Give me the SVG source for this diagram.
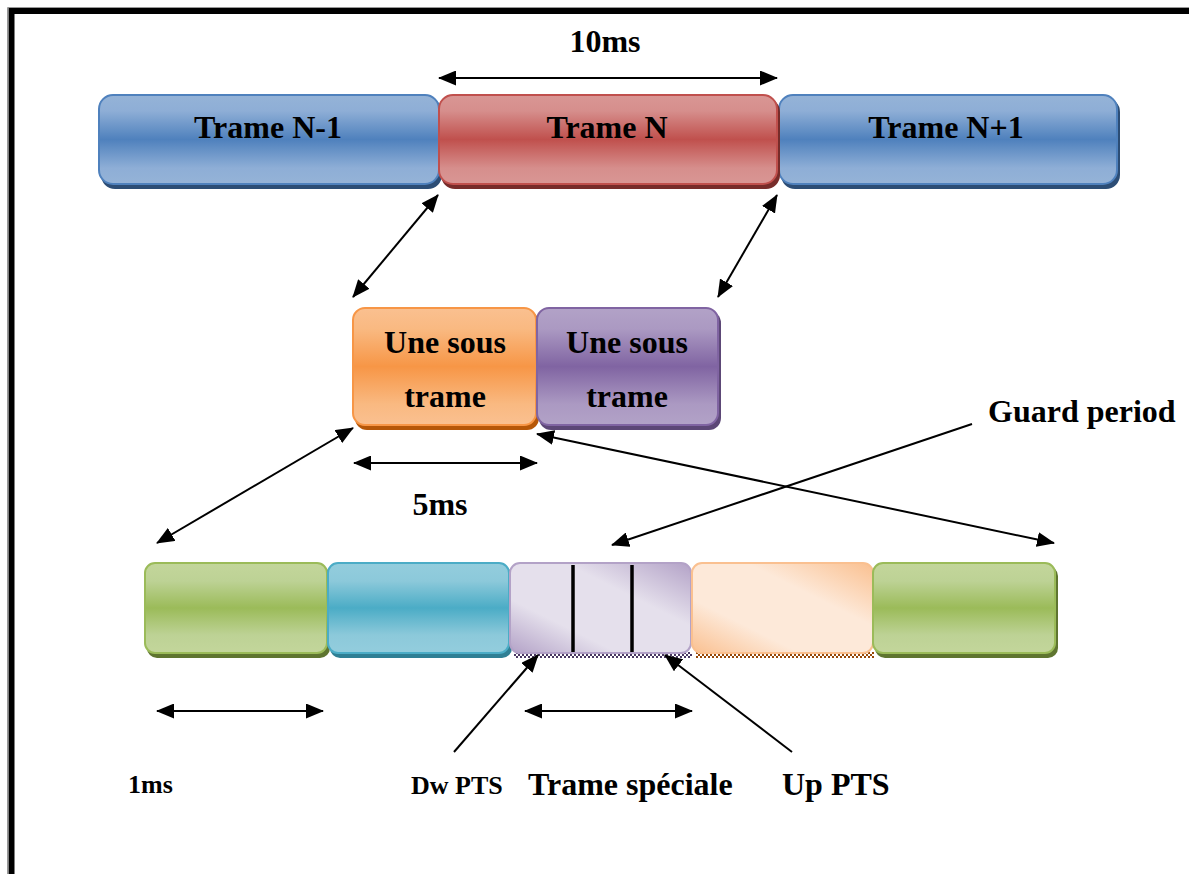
<svg xmlns="http://www.w3.org/2000/svg" width="1189" height="874" viewBox="0 0 1189 874">
  <style>
    .lbl { font-family: "Liberation Serif", "Times New Roman", serif; font-weight: bold; fill: #000; }
    .big { font-size: 32px; }
    .small { font-size: 26px; }
    .conn { stroke: #000; stroke-width: 2; fill: none; }
    .dbl { marker-start: url(#head); marker-end: url(#head); }
    .one { marker-end: url(#head); }
    .tick { stroke: #000; stroke-width: 3.5; }
  </style>
  <defs>
    <marker id="head" markerUnits="userSpaceOnUse" markerWidth="19" markerHeight="15" refX="17" refY="7.5" orient="auto-start-reverse">
      <path d="M0,0 L18,7.5 L0,15 z" fill="#000"/>
    </marker>
    <!-- glossy vertical fills: light / mid / light -->
    <linearGradient id="gBlue" x1="0" y1="0" x2="0" y2="1">
      <stop offset="0" stop-color="#95b3d7"/><stop offset="0.18" stop-color="#8eaed6"/>
      <stop offset="0.5" stop-color="#4f81bd"/><stop offset="0.82" stop-color="#8eaed6"/>
      <stop offset="1" stop-color="#95b3d7"/>
    </linearGradient>
    <linearGradient id="gRed" x1="0" y1="0" x2="0" y2="1">
      <stop offset="0" stop-color="#d99694"/><stop offset="0.18" stop-color="#d68e8c"/>
      <stop offset="0.5" stop-color="#c0504d"/><stop offset="0.82" stop-color="#d68e8c"/>
      <stop offset="1" stop-color="#d99694"/>
    </linearGradient>
    <linearGradient id="gOrange" x1="0" y1="0" x2="0" y2="1">
      <stop offset="0" stop-color="#fac090"/><stop offset="0.18" stop-color="#f9b981"/>
      <stop offset="0.5" stop-color="#f79646"/><stop offset="0.82" stop-color="#f9b981"/>
      <stop offset="1" stop-color="#fac090"/>
    </linearGradient>
    <linearGradient id="gPurple" x1="0" y1="0" x2="0" y2="1">
      <stop offset="0" stop-color="#b2a2c7"/><stop offset="0.18" stop-color="#ab99c2"/>
      <stop offset="0.5" stop-color="#8064a2"/><stop offset="0.82" stop-color="#ab99c2"/>
      <stop offset="1" stop-color="#b2a2c7"/>
    </linearGradient>
    <linearGradient id="gGreen" x1="0" y1="0" x2="0" y2="1">
      <stop offset="0" stop-color="#c3d69b"/><stop offset="0.2" stop-color="#bdd295"/>
      <stop offset="0.5" stop-color="#9bbb59"/><stop offset="0.8" stop-color="#bdd295"/>
      <stop offset="1" stop-color="#c3d69b"/>
    </linearGradient>
    <linearGradient id="gCyan" x1="0" y1="0" x2="0" y2="1">
      <stop offset="0" stop-color="#93cddd"/><stop offset="0.2" stop-color="#8cc9da"/>
      <stop offset="0.5" stop-color="#4bacc6"/><stop offset="0.8" stop-color="#8cc9da"/>
      <stop offset="1" stop-color="#93cddd"/>
    </linearGradient>
    <!-- diagonal fills -->
    <linearGradient id="gLav" x1="0" y1="1" x2="1" y2="0">
      <stop offset="0" stop-color="#b3a2c7"/><stop offset="0.3" stop-color="#e5e0ec"/>
      <stop offset="0.65" stop-color="#e5e0ec"/><stop offset="1" stop-color="#b3a2c7"/>
    </linearGradient>
    <linearGradient id="gPeach" x1="0" y1="1" x2="1" y2="0">
      <stop offset="0" stop-color="#fac090"/><stop offset="0.3" stop-color="#fde9d9"/>
      <stop offset="0.65" stop-color="#fde9d9"/><stop offset="1" stop-color="#fac090"/>
    </linearGradient>
    <pattern id="chkPurple" width="4" height="4" patternUnits="userSpaceOnUse">
      <rect width="4" height="4" fill="#fff"/>
      <rect width="2" height="2" fill="#4a3862"/><rect x="2" y="2" width="2" height="2" fill="#4a3862"/>
    </pattern>
    <pattern id="chkBrown" width="4" height="4" patternUnits="userSpaceOnUse">
      <rect width="4" height="4" fill="#fff"/>
      <rect width="2" height="2" fill="#984807"/><rect x="2" y="2" width="2" height="2" fill="#984807"/>
    </pattern>
  </defs>

  <rect width="1189" height="874" fill="#fff"/>

  <!-- page frame -->
  <path d="M7.5 874 V7.5 H1189" fill="none" stroke="#999" stroke-width="1"/>
  <path d="M11.5 874 V11 H1189" fill="none" stroke="#000" stroke-width="6"/>

  <!-- frames -->
  <g id="trame-n-1">
    <rect x="101" y="98" width="341" height="91" rx="14" fill="#2c4d75"/>
    <rect x="99" y="95" width="340" height="89" rx="14" fill="url(#gBlue)" stroke="#4f81bd" stroke-width="2"/>
    <text class="lbl big" x="268" y="138" text-anchor="middle">Trame N-1</text>
  </g>
  <g id="trame-n1">
    <rect x="781" y="98" width="339" height="91" rx="14" fill="#2c4d75"/>
    <rect x="779" y="95" width="338" height="89" rx="14" fill="url(#gBlue)" stroke="#4f81bd" stroke-width="2"/>
    <text class="lbl big" x="946" y="138" text-anchor="middle">Trame N+1</text>
  </g>
  <g id="trame-n">
    <rect x="441" y="98" width="339" height="91" rx="14" fill="#772c2a"/>
    <rect x="439" y="95" width="338" height="89" rx="14" fill="url(#gRed)" stroke="#c0504d" stroke-width="2"/>
    <text class="lbl big" x="607" y="138" text-anchor="middle">Trame N</text>
  </g>

  <!-- half frames -->
  <g id="sous-trame-1">
    <rect x="355" y="311" width="184" height="119" rx="12" fill="#b65708"/>
    <rect x="353" y="308" width="183" height="117" rx="12" fill="url(#gOrange)" stroke="#f79646" stroke-width="2"/>
    <text class="lbl big" x="445" y="353" text-anchor="middle">Une sous</text>
    <text class="lbl big" x="445" y="407" text-anchor="middle">trame</text>
  </g>
  <g id="sous-trame-2">
    <rect x="539" y="311" width="182" height="119" rx="12" fill="#5c4776"/>
    <rect x="537" y="308" width="181" height="117" rx="12" fill="url(#gPurple)" stroke="#8064a2" stroke-width="2"/>
    <text class="lbl big" x="627" y="353" text-anchor="middle">Une sous</text>
    <text class="lbl big" x="627" y="407" text-anchor="middle">trame</text>
  </g>

  <!-- subframes -->
  <g id="slot-1">
    <rect x="147" y="566" width="183" height="92" rx="10" fill="#5f7530"/>
    <rect x="145" y="563" width="182" height="90" rx="10" fill="url(#gGreen)" stroke="#9bbb59" stroke-width="2"/>
  </g>
  <g id="slot-2">
    <rect x="330" y="566" width="182" height="92" rx="10" fill="#2f7f94"/>
    <rect x="328" y="563" width="181" height="90" rx="10" fill="url(#gCyan)" stroke="#4bacc6" stroke-width="2"/>
  </g>
  <g id="slot-special">
    <rect x="514" y="652" width="178" height="6" fill="url(#chkPurple)"/>
    <rect x="510" y="563" width="181" height="90" rx="10" fill="url(#gLav)" stroke="#b3a2c7" stroke-width="2"/>
    <line class="tick" x1="573" y1="565" x2="573" y2="652"/>
    <line class="tick" x1="632" y1="565" x2="632" y2="652"/>
  </g>
  <g id="slot-4">
    <rect x="696" y="652" width="178" height="6" fill="url(#chkBrown)"/>
    <rect x="692" y="563" width="181" height="90" rx="10" fill="url(#gPeach)" stroke="#fac090" stroke-width="2"/>
  </g>
  <g id="slot-5">
    <rect x="875" y="566" width="183" height="92" rx="10" fill="#5f7530"/>
    <rect x="873" y="563" width="182" height="90" rx="10" fill="url(#gGreen)" stroke="#9bbb59" stroke-width="2"/>
  </g>

  <!-- connectors -->
  <g id="connectors">
    <line class="conn dbl" x1="439" y1="78" x2="777" y2="78"/>
    <line class="conn dbl" x1="438" y1="195" x2="353" y2="297"/>
    <line class="conn dbl" x1="777" y1="195" x2="718" y2="297"/>
    <line class="conn dbl" x1="354" y1="463" x2="537" y2="463"/>
    <line class="conn dbl" x1="353" y1="428" x2="157" y2="543"/>
    <line class="conn dbl" x1="537" y1="434" x2="1054" y2="543"/>
    <line class="conn one" x1="972" y1="424" x2="612" y2="545"/>
    <line class="conn dbl" x1="157" y1="711" x2="323" y2="711"/>
    <line class="conn dbl" x1="525" y1="711" x2="692" y2="711"/>
    <line class="conn one" x1="454" y1="752" x2="538" y2="655"/>
    <line class="conn one" x1="792" y1="752" x2="665" y2="655"/>
  </g>

  <!-- labels -->
  <g id="labels">
    <text class="lbl big" x="605" y="52" text-anchor="middle">10ms</text>
    <text class="lbl big" x="440" y="515" text-anchor="middle">5ms</text>
    <text class="lbl big" x="988" y="422">Guard period</text>
    <text class="lbl small" x="128" y="793">1ms</text>
    <text class="lbl small" x="411" y="794">Dw PTS</text>
    <text class="lbl big" x="528" y="795">Trame spéciale</text>
    <text class="lbl big" x="782" y="795">Up PTS</text>
  </g>
</svg>
